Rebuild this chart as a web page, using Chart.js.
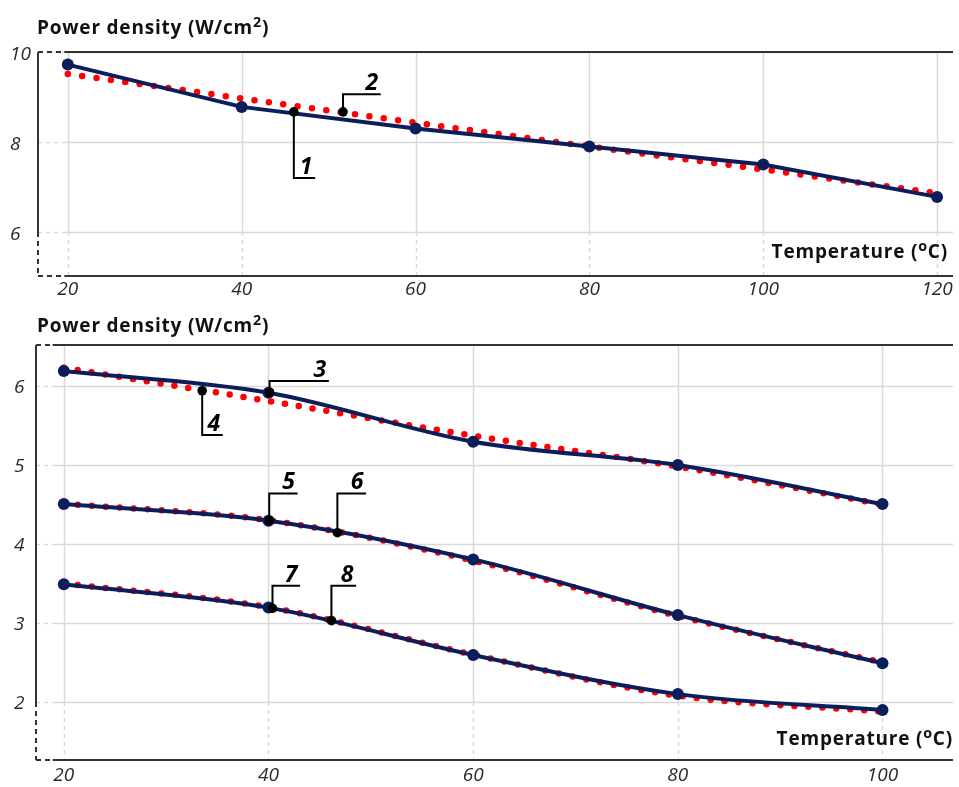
<!DOCTYPE html>
<html>
<head>
<meta charset="utf-8">
<script src="https://cdn.jsdelivr.net/npm/chart.js@4.4.1/dist/chart.umd.min.js"></script>
<style>
  html, body { margin: 0; padding: 0; background: #fff; }
  body { width: 959px; height: 787px; position: relative; overflow: hidden; font-family: "Open Sans", sans-serif; }
  .panel { position: absolute; left: 0; width: 959px; }
  #topPanel { top: 0; height: 300px; }
  #botPanel { top: 300px; height: 487px; }
  .label { position: absolute; font-weight: 700; font-size: 19px; line-height: 19px; letter-spacing: 0.8px; color: #111; white-space: nowrap; }
  .label sup { font-size: 0.75em; vertical-align: 0.5em; line-height: 0; }
</style>
</head>
<body>
<div class="panel" id="topPanel"><canvas id="topChart"></canvas></div>
<div class="panel" id="botPanel"><canvas id="botChart"></canvas></div>

<div class="label" style="left:37px; top:18px;">Power density (W/cm<sup>2</sup>)</div>
<div class="label" style="right:11px; top:242px;">Temperature (<sup>o</sup>C)</div>
<div class="label" style="left:37px; top:316px;">Power density (W/cm<sup>2</sup>)</div>
<div class="label" style="right:6px; top:729px;">Temperature (<sup>o</sup>C)</div>

<script>
// ---- upper panel: curves 1 (solid) and 2 (dotted)
const tempTop = [20, 40, 60, 80, 100, 120];
const curve1 = [9.72, 8.78, 8.30, 7.90, 7.50, 6.78];
const curve2 = [9.51, 8.97, 8.43, 7.90, 7.39, 6.86];
const xTicksTop = [20, 40, 60, 80, 100, 120];
const yTicksTop = [6, 8, 10];

// ---- lower panel: pairs 3/4, 5/6, 7/8
const tempBot = [20, 40, 60, 80, 100];
const curve3 = [6.19, 5.915, 5.295, 5.00, 4.505];
const curve4 = [6.23, 5.81, 5.37, 4.98, 4.50];
const curve5 = [4.505, 4.295, 3.805, 3.10, 2.49];
const curve6 = [4.51, 4.30, 3.79, 3.09, 2.50];
const curve7 = [3.49, 3.195, 2.595, 2.10, 1.90];
const curve8 = [3.50, 3.20, 2.60, 2.08, 1.88];
const xTicksBot = [20, 40, 60, 80, 100];
const yTicksBot = [2, 3, 4, 5, 6];

// callouts: marker on the curve, where the leader turns, where it ends
const calloutTextTop = ["1", "2"];
const calloutXTop = [46.0, 51.66];
const calloutYTop = [8.67, 8.67];
const calloutBendTop = [7.2, 9.06];
const calloutEndTop = [48.46, 56.0];

const calloutTextBot = ["3", "4", "5", "6", "7", "8"];
const calloutXBot = [40.1, 33.52, 40.07, 46.73, 40.39, 46.15];
const calloutYBot = [5.915, 5.94, 4.295, 4.143, 3.186, 3.03];
const calloutBendBot = [6.063, 5.38, 4.64, 4.64, 3.472, 3.472];
const calloutEndBot = [45.9, 35.53, 42.84, 49.54, 43.08, 48.57];

const NAVY = "#0b1e5b";
const RED = "#ff0000";
const GRID = "#d9d9d9";
const FRAME = "#333";
const TICK = "#2a2a2a";

const pts = (xs, ys) => xs.map((x, i) => ({ x, y: ys[i] }));

function line(ctx, x1, y1, x2, y2, dash) {
  ctx.setLineDash(dash);
  ctx.beginPath();
  ctx.moveTo(x1, y1);
  ctx.lineTo(x2, y2);
  ctx.stroke();
}

// grid + frame with dashed stubs outside the data range, and the numbered callouts
const framePlugin = {
  id: "frameGrid",
  beforeDatasetsDraw(chart, args, o) {
    const { ctx, chartArea: a, scales: { x, y } } = chart;
    const xs = x.getPixelForValue(o.solidFromX);
    const ys = y.getPixelForValue(o.yTicks[0]);
    ctx.save();
    ctx.strokeStyle = GRID;
    ctx.lineWidth = 1.5;
    for (const v of o.yTicks) {
      const py = Math.round(y.getPixelForValue(v)) + 0.5;
      line(ctx, a.left, py, xs, py, [4, 4]);
      line(ctx, xs, py, a.right, py, []);
    }
    for (const v of o.xTicks) {
      const px = Math.round(x.getPixelForValue(v)) + 0.5;
      line(ctx, px, a.top, px, ys, []);
      line(ctx, px, ys, px, a.bottom, [4, 4]);
    }
    ctx.strokeStyle = FRAME;
    ctx.lineWidth = 2;
    line(ctx, a.left, a.top, xs, a.top, [5, 4]);
    line(ctx, xs, a.top, a.right, a.top, []);
    line(ctx, a.left, a.bottom, xs, a.bottom, [5, 4]);
    line(ctx, xs, a.bottom, a.right, a.bottom, []);
    line(ctx, a.left, a.top, a.left, ys, []);
    line(ctx, a.left, ys, a.left, a.bottom, [5, 4]);
    ctx.restore();
  },
  afterDatasetsDraw(chart, args, o) {
    const { ctx, scales: { x, y } } = chart;
    ctx.save();
    ctx.strokeStyle = "#000";
    ctx.fillStyle = "#000";
    ctx.lineWidth = 2;
    ctx.setLineDash([]);
    ctx.font = "italic 700 23px 'Open Sans', sans-serif";
    ctx.textAlign = "center";
    ctx.textBaseline = "alphabetic";
    o.text.forEach((t, i) => {
      const px = x.getPixelForValue(o.x[i]);
      const py = y.getPixelForValue(o.y[i]);
      const by = y.getPixelForValue(o.bend[i]);
      const ex = x.getPixelForValue(o.end[i]);
      ctx.beginPath();
      ctx.moveTo(px, py);
      ctx.lineTo(px, by);
      ctx.lineTo(ex, by);
      ctx.stroke();
      ctx.fillText(t, ex - 9, by - 4);
    });
    // markers on top of the leaders
    o.text.forEach((t, i) => {
      ctx.beginPath();
      ctx.arc(x.getPixelForValue(o.x[i]), y.getPixelForValue(o.y[i]), 4.8, 0, Math.PI * 2);
      ctx.fill();
    });
    ctx.restore();
  }
};

function makeChart(id, c) {
  const datasets = [];
  c.solid.forEach((s) => datasets.push({
    data: pts(c.temp, s),
    borderColor: NAVY,
    backgroundColor: NAVY,
    borderWidth: 4,
    pointRadius: c.pointR,
    pointBorderWidth: 0,
    pointBackgroundColor: NAVY,
    cubicInterpolationMode: c.smooth ? "monotone" : "default",
    tension: 0,
  }));
  c.dotted.forEach((s) => datasets.push({
    data: pts(c.temp, s),
    borderColor: RED,
    borderWidth: 6.5,
    borderDash: [0, c.dotGap],
    borderCapStyle: "round",
    pointRadius: 0,
    cubicInterpolationMode: c.smooth ? "monotone" : "default",
    tension: 0,
  }));

  const tickFont = { family: "'Open Sans', sans-serif", size: 19, style: "italic" };

  return new Chart(document.getElementById(id), {
    type: "line",
    data: { datasets },
    plugins: [framePlugin],
    options: {
      responsive: true,
      maintainAspectRatio: false,
      animation: false,
      events: [],
      layout: { padding: { top: c.padTop, left: c.padLeft, right: 0, bottom: 0 } },
      plugins: {
        legend: { display: false },
        tooltip: { enabled: false },
        frameGrid: {
          solidFromX: c.solidFromX,
          xTicks: c.xTicks,
          yTicks: c.yTicks,
          text: c.callout.text, x: c.callout.x, y: c.callout.y,
          bend: c.callout.bend, end: c.callout.end,
        },
      },
      scales: {
        x: {
          type: "linear",
          min: c.xMin, max: c.xMax,
          grid: { display: false, drawTicks: false },
          border: { display: false },
          afterBuildTicks: (ax) => { ax.ticks = c.xTicks.map((v) => ({ value: v })); },
          afterFit: (ax) => { ax.height = c.xAxisH; ax.paddingLeft = 0; ax.paddingRight = 0; },
          ticks: { padding: c.xTickPad, color: TICK, font: tickFont, maxRotation: 0, autoSkip: false },
        },
        y: {
          type: "linear",
          min: c.yMin, max: c.yMax,
          grid: { display: false, drawTicks: false },
          border: { display: false },
          afterBuildTicks: (ax) => { ax.ticks = c.yTicks.map((v) => ({ value: v })); },
          afterFit: (ax) => { ax.width = c.yAxisW; },
          ticks: { crossAlign: "far", labelOffset: c.yLabelOff, color: TICK, font: tickFont, autoSkip: false },
        },
      },
    },
  });
}

makeChart("topChart", {
  temp: tempTop, solid: [curve1], dotted: [curve2], smooth: false,
  xTicks: xTicksTop, yTicks: yTicksTop,
  xMin: 16.571, xMax: 121.83, yMin: 5.022, yMax: 10,
  padTop: 52, padLeft: 10, yAxisW: 28, xAxisH: 24, xTickPad: 2, yLabelOff: 3,
  solidFromX: 19.6, pointR: 6, dotGap: 14.5,
  callout: { text: calloutTextTop, x: calloutXTop, y: calloutYTop, bend: calloutBendTop, end: calloutEndTop },
});

makeChart("botChart", {
  temp: tempBot, solid: [curve3, curve5, curve7], dotted: [curve4, curve6, curve8], smooth: true,
  xTicks: xTicksBot, yTicks: yTicksBot,
  xMin: 17.28, xMax: 106.89, yMin: 1.266, yMax: 6.519,
  padTop: 45, padLeft: 14, yAxisW: 22, xAxisH: 27, xTickPad: 4, yLabelOff: 2,
  solidFromX: 18.9, pointR: 6, dotGap: 14,
  callout: { text: calloutTextBot, x: calloutXBot, y: calloutYBot, bend: calloutBendBot, end: calloutEndBot },
});
</script>
</body>
</html>
